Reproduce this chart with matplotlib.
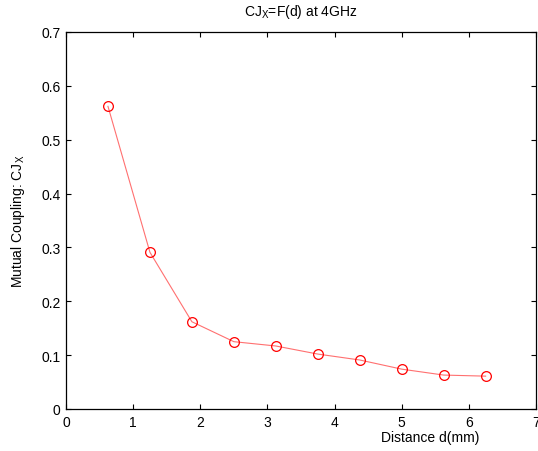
import matplotlib
matplotlib.use("Agg")
import matplotlib.pyplot as plt

plt.rcParams['font.family'] = ['Liberation Sans', 'DejaVu Sans']
plt.rcParams['mathtext.fontset'] = 'custom'
plt.rcParams['mathtext.rm'] = 'Liberation Sans'
plt.rcParams['mathtext.it'] = 'Liberation Sans'

distance = [0.625, 1.25, 1.875, 2.5, 3.125, 3.75, 4.375, 5.0, 5.625, 6.25]
coupling = [0.562, 0.291, 0.162, 0.125, 0.117, 0.102, 0.091, 0.074, 0.063, 0.061]
xticks = [0, 1, 2, 3, 4, 5, 6, 7]
yticks = [0, 0.1, 0.2, 0.3, 0.4, 0.5, 0.6, 0.7]

fig = plt.figure(figsize=(5.38, 4.52), dpi=100)
ax = fig.add_axes([66/538, 42/452, 470/538, 377/452])
ax.plot(distance, coupling, '-', color='#ff7070', lw=0.8, zorder=2)
ax.plot(distance, coupling, 'o', mfc='none', mec='red', ms=7, mew=0.9, zorder=3)
ax.set_xlim(0, 7)
ax.set_ylim(0, 0.7)
ax.set_xticks(xticks)
ax.set_xticklabels([str(t) for t in xticks])
ax.set_yticks(yticks)
ax.set_yticklabels(['0'] + [f'{t:.1f}' for t in yticks[1:]])
ax.tick_params(direction='in', length=3.5, width=0.8, top=True, right=True, labelsize=10, pad=4)
for s in ax.spines.values():
    s.set_linewidth(0.9)
ax.set_title('CJ$_\\mathregular{X}$=F(d) at 4GHz', fontsize=10, pad=12)
ax.set_ylabel('Mutual Coupling: CJ$_\\mathregular{X}$', fontsize=10, labelpad=10)
ax.set_xlabel('Distance d(mm)', fontsize=10)
ax.xaxis.set_label_coords(0.774, -0.055)
fig.savefig('out.png', dpi=100)
